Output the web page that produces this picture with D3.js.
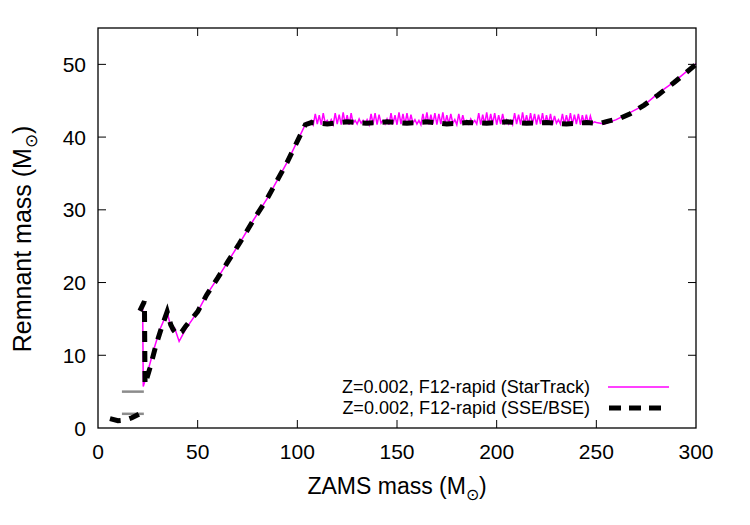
<!DOCTYPE html>
<html>
<head>
<meta charset="utf-8">
<script src="https://cdn.jsdelivr.net/npm/d3@7"></script>
<style>
  body { margin: 0; background: #fff; }
  text { font-family: "Liberation Sans", Arial, Helvetica, sans-serif; fill: #000; }
</style>
</head>
<body>
<div id="vis"></div>
<script>
// StarTrack, Z=0.002, rapid SN: low-mass branch + rising part
var stMass = [20.5, 22.4, 22.7, 25.2, 28, 31, 34.7, 36, 36.8, 38.5, 40.7, 44, 50, 54.5, 60, 65, 71, 78, 85, 95, 104.5];
var stRem  = [16.2, 17.1, 5.7, 8.0, 10.8, 13.5, 15.9, 14.5, 13.5, 13.7, 11.9, 13.6, 16.0, 18.3, 20.6, 22.8, 25.4, 28.6, 31.6, 36.6, 42.0];
// StarTrack plateau, one value per 1 Msun starting at 105 Msun (noisy spikes)
var stPlateauStart = 105;
var stPlateauRem = [
  42.0, 41.8, 42.3, 41.7, 43.2, 41.8, 43.0, 41.7, 43.3, 41.9,
  42.3, 41.8, 42.4, 41.7, 43.3, 41.8, 43.1, 41.7, 43.4, 41.8,
  43.0, 41.7, 43.3, 41.9, 42.3, 41.8, 42.5, 41.9, 42.3, 41.8,
  42.4, 41.7, 43.2, 41.8, 43.3, 41.7, 43.1, 41.9, 42.3, 41.8,
  42.5, 41.7, 43.3, 41.8, 43.0, 41.7, 43.4, 41.8, 43.2, 41.7,
  43.3, 41.8, 43.1, 41.9, 42.4, 41.8, 42.3, 41.7, 43.2, 41.8,
  43.4, 41.7, 43.1, 41.8, 43.3, 41.7, 43.2, 41.8, 43.4, 41.7,
  43.0, 41.8, 43.2, 41.9, 42.4, 41.7, 43.2, 41.8, 43.0, 41.9,
  42.3, 41.8, 42.5, 41.9, 42.3, 41.8, 43.3, 41.7, 43.1, 41.8,
  43.4, 41.7, 43.2, 41.8, 43.3, 41.7, 43.0, 41.8, 43.2, 41.9,
  42.4, 41.8, 42.3, 41.7, 43.3, 41.8, 43.1, 41.7, 43.4, 41.8,
  43.0, 41.7, 43.3, 41.8, 43.2, 41.7, 43.1, 41.8, 43.3, 41.7,
  43.0, 41.8, 43.2, 41.7, 42.9, 41.9, 42.4, 41.8, 43.2, 41.7,
  43.0, 41.8, 43.3, 41.7, 43.1, 41.8, 43.2, 41.7, 43.0, 41.8,
  43.1, 41.8, 42.9, 41.9, 42.1, 42.0
];
var stHighMass = [254, 260, 265, 274, 281, 289, 300];
var stHighRem  = [41.8, 42.4, 43.1, 44.4, 46.0, 47.6, 50.1];

// SSE/BSE, Z=0.002, rapid SN
var sseLowMass = [6, 10, 14, 17, 20.5];
var sseLowRem  = [1.3, 1.0, 1.1, 1.4, 1.9];
var sseMass = [21, 23.3, 23.6, 26, 29, 32, 34.7, 36.5, 38, 40, 42, 44, 50, 54.5, 60, 65, 71, 78, 85, 95, 104, 107,
               115, 125, 135, 145, 155, 165, 175, 185, 195, 205, 215, 225, 235, 245, 252, 256, 262, 267, 274, 281, 289, 300];
var sseRem  = [16.1, 17.4, 6.0, 8.2, 11.3, 13.9, 16.0, 14.2, 13.4, 12.8, 13.2, 14.0, 16.0, 18.3, 20.6, 22.8, 25.4, 28.6, 31.6, 36.6, 41.7, 42.0,
               41.8, 42.1, 41.9, 42.1, 41.9, 42.1, 41.8, 42.0, 41.9, 42.1, 41.9, 42.0, 41.8, 42.0, 41.9, 42.2, 42.6, 43.2, 44.4, 45.8, 47.5, 50.0];

// grey horizontal marks at low mass
var greyLevels = [5.0, 1.95];
var greyRange = [12, 23];

var xTicks = [0, 50, 100, 150, 200, 250, 300];
var yTicks = [0, 10, 20, 30, 40, 50];
var legendLabels = ["Z=0.002, F12-rapid (StarTrack)", "Z=0.002, F12-rapid (SSE/BSE)"];

var width = 750, height = 525;
var frame = {left: 98, right: 696, top: 28, bottom: 428};

var svg = d3.select("#vis").append("svg")
  .attr("width", width).attr("height", height);

var x = d3.scaleLinear().domain([0, 300]).range([frame.left, frame.right]);
var y = d3.scaleLinear().domain([0, 55]).range([frame.bottom, frame.top]);

function pts(ms, rs) {
  return ms.map((m, i) => [m, rs[i]]);
}

var line = d3.line().x(d => x(d[0])).y(d => y(d[1]));

// join the StarTrack pieces
var stData = pts(stMass, stRem)
  .concat(stPlateauRem.map((r, i) => [stPlateauStart + i, r]))
  .concat(pts(stHighMass, stHighRem));

// grey marks
greyLevels.forEach(g => {
  svg.append("path")
    .datum([[greyRange[0], g], [greyRange[1], g]])
    .attr("fill", "none")
    .attr("stroke", "#8c8c8c")
    .attr("stroke-width", 2.5)
    .attr("d", line);
});

svg.append("path")
  .datum(stData)
  .attr("fill", "none")
  .attr("stroke", "#ff00ff")
  .attr("stroke-width", 1.5)
  .attr("d", line);

[pts(sseLowMass, sseLowRem), pts(sseMass, sseRem)].forEach(seg => {
  svg.append("path")
    .datum(seg)
    .attr("fill", "none")
    .attr("stroke", "#000")
    .attr("stroke-width", 5)
    .attr("stroke-dasharray", "11,9")
    .attr("d", line);
});

// frame with inward ticks on all sides
var tickLen = 8;
var axes = svg.append("g").attr("stroke", "#000").attr("stroke-width", 1);
xTicks.forEach(t => {
  if (t == 0 || t == 300) return;
  axes.append("line").attr("x1", x(t)).attr("x2", x(t)).attr("y1", frame.bottom).attr("y2", frame.bottom - tickLen);
  axes.append("line").attr("x1", x(t)).attr("x2", x(t)).attr("y1", frame.top).attr("y2", frame.top + tickLen);
});
yTicks.forEach(t => {
  if (t == 0) return;
  axes.append("line").attr("x1", frame.left).attr("x2", frame.left + tickLen).attr("y1", y(t)).attr("y2", y(t));
  axes.append("line").attr("x1", frame.right).attr("x2", frame.right - tickLen).attr("y1", y(t)).attr("y2", y(t));
});
svg.append("rect")
  .attr("x", frame.left).attr("y", frame.top)
  .attr("width", frame.right - frame.left).attr("height", frame.bottom - frame.top)
  .attr("fill", "none").attr("stroke", "#000").attr("stroke-width", 1.3);

// tick labels
svg.append("g").selectAll("text").data(xTicks).join("text")
  .attr("x", d => x(d)).attr("y", 459)
  .attr("text-anchor", "middle")
  .style("font-size", "21px")
  .text(d => d);
svg.append("g").selectAll("text").data(yTicks).join("text")
  .attr("x", 86).attr("y", d => y(d) + 7.5)
  .attr("text-anchor", "end")
  .style("font-size", "21px")
  .text(d => d);

// axis titles
var xt = svg.append("text")
  .attr("x", 397).attr("y", 494)
  .attr("text-anchor", "middle")
  .style("font-size", "23px");
xt.append("tspan").text("ZAMS mass (M");
xt.append("tspan").attr("dy", 6).style("font-size", "16px").text("\u2299");
xt.append("tspan").attr("dy", -6).text(")");

var yt = svg.append("text")
  .attr("transform", "translate(31,239) rotate(-90)")
  .attr("text-anchor", "middle")
  .style("font-size", "25px");
yt.append("tspan").text("Remnant mass (M");
yt.append("tspan").attr("dy", 6).style("font-size", "17px").text("\u2299");
yt.append("tspan").attr("dy", -6).text(")");

// legend
var legend = svg.append("g");
legendLabels.forEach((lab, i) => {
  var ly = 387 + i * 21;
  legend.append("text")
    .attr("x", 590).attr("y", ly + 6)
    .attr("text-anchor", "end")
    .style("font-size", "18px")
    .text(lab);
  var l = legend.append("line").attr("y1", ly).attr("y2", ly);
  if (i == 0) {
    l.attr("x1", 608).attr("x2", 669).attr("stroke", "#ff00ff").attr("stroke-width", 1.5);
  } else {
    l.attr("x1", 609).attr("x2", 661).attr("stroke", "#000").attr("stroke-width", 5).attr("stroke-dasharray", "12,8");
  }
});
</script>
</body>
</html>
